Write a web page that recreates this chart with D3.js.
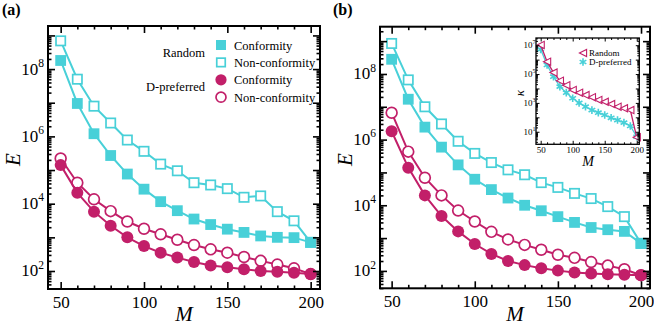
<!DOCTYPE html>
<html>
<head>
<meta charset="utf-8">
<script src="https://cdn.jsdelivr.net/npm/d3@7"></script>
<style>
  body { margin: 0; background: #fff; }
  text { font-family: "Liberation Serif", "Times New Roman", serif; }
</style>
</head>
<body>
<svg id="chart" width="654" height="326"></svg>
<script>
const M = [50, 60, 70, 80, 90, 100, 110, 120, 130, 140, 150, 160, 170, 180, 190, 200]

// panel (a)
const aRandomCon = [1.8e8, 9.5e6, 1.2e6, 2.7e5, 7.6e4, 2.7e4, 1.15e4, 6.2e3, 3.5e3, 2.4e3, 1.75e3, 1.4e3, 1.1e3, 1.0e3, 9.8e2, 7.1e2]
const aRandomNon = [6.9e8, 5.0e7, 7.9e6, 2.5e6, 7.8e5, 3.6e5, 1.5e5, 9.5e4, 4.2e4, 3.6e4, 2.8e4, 1.55e4, 1.7e4, 5.8e3, 3.1e3, 7.1e2]
const aDprefCon = [1.4e5, 2.1e4, 5.8e3, 2.2e3, 1.0e3, 5.5e2, 3.5e2, 2.5e2, 1.86e2, 1.45e2, 1.3e2, 1.12e2, 1.0e2, 95, 89, 81]
const aDprefNon = [2.2e5, 4.2e4, 1.35e4, 6.0e3, 2.95e3, 1.8e3, 1.23e3, 8.5e2, 5.9e2, 4.4e2, 3.5e2, 2.6e2, 2.0e2, 1.55e2, 1.2e2, 81]

// panel (b)
const bRandomCon = [2.8e8, 1.7e7, 2.4e6, 5.9e5, 1.7e5, 6.2e4, 3.0e4, 1.66e4, 1.0e4, 6.8e3, 4.5e3, 3.0e3, 2.1e3, 1.8e3, 1.6e3, 6.9e2]
const bRandomNon = [8.5e8, 6.6e7, 1.0e7, 3.0e6, 8.9e5, 3.8e5, 2.0e5, 1.2e5, 8.5e4, 4.9e4, 3.5e4, 2.3e4, 1.6e4, 9.1e3, 4.5e3, 6.9e2]
const bDprefCon = [1.8e6, 1.4e5, 2.0e4, 4.7e3, 1.6e3, 6.6e2, 3.3e2, 2.0e2, 1.5e2, 1.2e2, 1.02e2, 89, 83, 79, 76, 74]
const bDprefNon = [6.6e6, 4.3e5, 6.9e4, 2.0e4, 6.9e3, 3.2e3, 1.55e3, 9.1e2, 6.2e2, 4.4e2, 3.1e2, 2.5e2, 1.86e2, 1.45e2, 1.12e2, 74]

// inset of (b): kappa
const kRandom = [1.05e7, 7.2e5, 1.26e5, 3.5e4, 1.7e4, 7.9e3, 5.1e3, 3.5e3, 2.5e3, 1.6e3, 1.2e3, 8.3e2, 5.5e2, 4.2e2, 3.2e2, 4.1]
const kDpref = [5.2e6, 4.3e5, 6.6e4, 1.35e4, 5.1e3, 2.1e3, 1.0e3, 5.5e2, 3.2e2, 2.1e2, 1.45e2, 93, 65, 43, 25, 4.5]

const xTicks = [50, 100, 150, 200]
const yTickExps = [2, 4, 6, 8]
const insetTickExps = [1, 3, 5, 7]

const cyan = '#48d0d8'
const pink = '#c21f69'

const svg = d3.select('#chart')

function drawMarker (g, type, x, y, color, r) {
  if (type === 'square' || type === 'squareOpen') {
    const s = type === 'square' ? r * 2 : r * 2 - 1.5
    g.append('rect').attr('x', x - s / 2).attr('y', y - s / 2).attr('width', s).attr('height', s)
      .attr('fill', type === 'square' ? color : '#fff')
      .attr('stroke', color).attr('stroke-width', type === 'square' ? 0 : 1.7)
  } else if (type === 'circle' || type === 'circleOpen') {
    g.append('circle').attr('cx', x).attr('cy', y).attr('r', type === 'circle' ? r + 0.6 : r)
      .attr('fill', type === 'circle' ? color : '#fff')
      .attr('stroke', color).attr('stroke-width', type === 'circle' ? 0 : 1.7)
  } else if (type === 'triangle') {
    g.append('path').attr('d', `M${x - r},${y}L${x + r},${y - r}L${x + r},${y + r}Z`)
      .attr('fill', '#fff').attr('stroke', color).attr('stroke-width', 1.1)
  } else if (type === 'star') {
    g.append('path').attr('transform', `translate(${x},${y})`)
      .attr('d', d3.symbol(d3.symbolAsterisk, r * r * 4)())
      .attr('fill', 'none').attr('stroke', color).attr('stroke-width', 1.6)
  }
}

function frameAxes (g, x, y, opt) {
  const [x0, x1] = x.range()
  const [y0, y1] = y.range()
  const minorX = d3.range(Math.ceil(x.domain()[0] / 10) * 10, x.domain()[1], 10).filter(v => v % 50 !== 0)
  const lo = Math.floor(Math.log10(y.domain()[0]))
  const hi = Math.ceil(Math.log10(y.domain()[1]))
  const minorY = []
  const majorY = []
  for (let e = lo; e <= hi; e++) {
    majorY.push(Math.pow(10, e))
    for (let k = 2; k < 10; k++) minorY.push(k * Math.pow(10, e))
  }
  const inDom = v => v >= y.domain()[0] && v <= y.domain()[1]

  const bottom = g.append('g').attr('transform', `translate(0,${y0})`)
  bottom.call(d3.axisBottom(x).tickValues(opt.xTicks).tickSize(-opt.major).tickPadding(opt.major + opt.pad))
  bottom.append('g').call(d3.axisBottom(x).tickValues(minorX).tickSize(-opt.minor).tickFormat(''))
  const top = g.append('g').attr('transform', `translate(0,${y1})`)
  top.call(d3.axisTop(x).tickValues(opt.xTicks).tickSize(-opt.major).tickFormat(''))
  top.append('g').call(d3.axisTop(x).tickValues(minorX).tickSize(-opt.minor).tickFormat(''))

  const left = g.append('g').attr('transform', `translate(${x0},0)`)
  left.call(d3.axisLeft(y).tickValues(majorY.filter(inDom)).tickSize(-opt.major).tickFormat(''))
  left.append('g').call(d3.axisLeft(y).tickValues(minorY.filter(inDom)).tickSize(-opt.minor).tickFormat(''))
  const right = g.append('g').attr('transform', `translate(${x1},0)`)
  right.call(d3.axisRight(y).tickValues(majorY.filter(inDom)).tickSize(-opt.major).tickFormat(''))
  right.append('g').call(d3.axisRight(y).tickValues(minorY.filter(inDom)).tickSize(-opt.minor).tickFormat(''))

  g.selectAll('.domain').remove()
  g.selectAll('.tick line').attr('stroke', '#000').attr('stroke-width', opt.tickWidth)

  bottom.selectAll('text').attr('font-size', opt.font).attr('fill', '#000')
    .attr('font-family', '"Liberation Serif", serif')

  // y labels with superscripts
  opt.yExps.forEach(e => {
    const t = g.append('text')
      .attr('x', x0 - opt.major + 3)
      .attr('y', y(Math.pow(10, e)) + opt.font * 0.32)
      .attr('text-anchor', 'end')
      .attr('font-size', opt.font)
    t.append('tspan').text('10')
    t.append('tspan').attr('dy', -opt.font * 0.45).attr('font-size', opt.font * 0.68).text(e)
  })

  g.append('rect').attr('x', x0).attr('y', y1).attr('width', x1 - x0).attr('height', y0 - y1)
    .attr('fill', 'none').attr('stroke', '#000').attr('stroke-width', opt.frame)
}

function drawSeries (g, x, y, vals, color, type, r, lw) {
  const line = d3.line().x((d, i) => x(M[i])).y(d => y(d))
  g.append('path').datum(vals).attr('d', line)
    .attr('fill', 'none').attr('stroke', color).attr('stroke-width', lw)
  vals.forEach((v, i) => drawMarker(g, type, x(M[i]), y(v), color, r))
}

function panel (cfg) {
  const g = svg.append('g')
  const x = d3.scaleLinear().domain(cfg.xDom).range(cfg.xRange)
  const y = d3.scaleLog().domain(cfg.yDom).range(cfg.yRange)

  const plot = g.append('g')
  cfg.series.forEach(s => drawSeries(plot, x, y, s.vals, s.color, s.type, 5.4, 2))

  frameAxes(g, x, y, { xTicks, yExps: yTickExps, major: 7, minor: 3.5, pad: 0, font: 17, frame: 2, tickWidth: 1.6 })

  g.append('text').attr('x', (cfg.xRange[0] + cfg.xRange[1]) / 2).attr('y', 321)
    .attr('text-anchor', 'middle').attr('font-size', 21).attr('font-style', 'italic').text('M')
  g.append('text').attr('transform', `translate(${cfg.xRange[0] - 28},${(cfg.yRange[0] + cfg.yRange[1]) / 2 + 2}) rotate(-90)`)
    .attr('text-anchor', 'middle').attr('font-size', 21).attr('font-style', 'italic').text('E')
  g.append('text').attr('x', cfg.labelX).attr('y', 15).attr('font-size', 16).attr('font-weight', 'bold').text(cfg.label)
  return g
}

panel({
  label: '(a)', labelX: 2,
  xDom: [42.4, 205.6], xRange: [48, 320],
  yDom: [Math.pow(10, 1.465), Math.pow(10, 9.28)], yRange: [289, 26],
  series: [
    { vals: aRandomNon, color: cyan, type: 'squareOpen' },
    { vals: aRandomCon, color: cyan, type: 'square' },
    { vals: aDprefNon, color: pink, type: 'circleOpen' },
    { vals: aDprefCon, color: pink, type: 'circle' }
  ]
})

panel({
  label: '(b)', labelX: 333,
  xDom: [43, 205.4], xRange: [380, 650],
  yDom: [Math.pow(10, 1.47), Math.pow(10, 9.44)], yRange: [288.3, 26.7],
  series: [
    { vals: bRandomNon, color: cyan, type: 'squareOpen' },
    { vals: bRandomCon, color: cyan, type: 'square' },
    { vals: bDprefNon, color: pink, type: 'circleOpen' },
    { vals: bDprefCon, color: pink, type: 'circle' }
  ]
})

// legend of (a)
const legend = svg.append('g')
const legendRows = [
  { type: 'square', color: cyan, text: 'Conformity' },
  { type: 'squareOpen', color: cyan, text: 'Non-conformity' },
  { type: 'circle', color: pink, text: 'Conformity' },
  { type: 'circleOpen', color: pink, text: 'Non-conformity' }
]
legendRows.forEach((d, i) => {
  const ly = 45 + i * 17.4
  drawMarker(legend, d.type, 221, ly, d.color, 5)
  legend.append('text').attr('x', 234).attr('y', ly + 4.5).attr('font-size', 12.5).text(d.text)
})
legend.append('text').attr('x', 205).attr('y', 57).attr('text-anchor', 'end').attr('font-size', 12.5).text('Random')
legend.append('text').attr('x', 205).attr('y', 91).attr('text-anchor', 'end').attr('font-size', 12.5).text('D-preferred')

// inset
const inset = svg.append('g')
const ix = d3.scaleLinear().domain([42.7, 204]).range([536, 639.3])
const iy = d3.scaleLog().domain([Math.pow(10, 0.13), Math.pow(10, 7.5)]).range([144.3, 38])
inset.append('rect').attr('x', 536).attr('y', 38).attr('width', 103.3).attr('height', 106.3).attr('fill', '#fff')
const iplot = inset.append('g')
drawSeries(iplot, ix, iy, kDpref, cyan, 'star', 3.2, 1.3)
drawSeries(iplot, ix, iy, kRandom, pink, 'triangle', 3.6, 1.3)
frameAxes(inset, ix, iy, { xTicks, yExps: insetTickExps, major: 3.5, minor: 2, pad: -1.5, font: 9, frame: 1.3, tickWidth: 1 })
inset.append('text').attr('x', 588).attr('y', 166).attr('text-anchor', 'middle')
  .attr('font-size', 14).attr('font-style', 'italic').text('M')
inset.append('text').attr('transform', 'translate(524,93) rotate(-90)').attr('text-anchor', 'middle')
  .attr('font-size', 13).attr('font-style', 'italic').text('κ')
drawMarker(inset, 'triangle', 583, 53, pink, 3.6)
inset.append('text').attr('x', 589).attr('y', 56).attr('font-size', 9).text('Random')
drawMarker(inset, 'star', 583, 62, cyan, 3.2)
inset.append('text').attr('x', 589).attr('y', 65).attr('font-size', 9).text('D-preferred')
</script>
</body>
</html>
